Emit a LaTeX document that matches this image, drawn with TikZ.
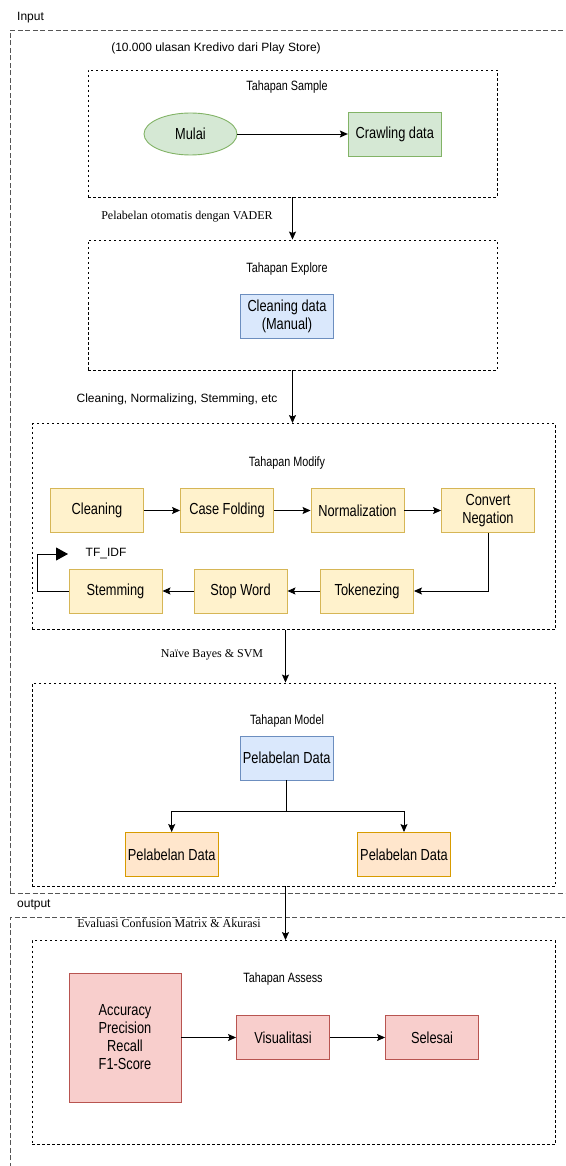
\documentclass[tikz,border=0pt]{standalone}
\usepackage{fontspec}
\setmainfont{Liberation Sans}
\newfontfamily\serifface{Liberation Serif}
\newfontfamily\condface[FakeStretch=0.8]{Liberation Sans}
\usetikzlibrary{arrows.meta,shapes.geometric}
\definecolor{grnF}{HTML}{D5E8D4}\definecolor{grnD}{HTML}{82B366}
\definecolor{bluF}{HTML}{DAE8FC}\definecolor{bluD}{HTML}{6C8EBF}
\definecolor{yelF}{HTML}{FFF2CC}\definecolor{yelD}{HTML}{D6B656}
\definecolor{orgF}{HTML}{FFE6CC}\definecolor{orgD}{HTML}{D79B00}
\definecolor{redF}{HTML}{F8CECC}\definecolor{redD}{HTML}{B85450}
\definecolor{outerD}{HTML}{555555}
\begin{document}
\begin{tikzpicture}[x=1pt,y=-1pt,
  proc/.style={draw, rectangle, line width=0.9pt, minimum width=93pt, minimum height=44pt, inner sep=1pt, align=center, font=\condface\fontsize{16}{18}\selectfont},
  yel/.style={proc, fill=yelF, draw=yelD},
  blu/.style={proc, fill=bluF, draw=bluD},
  org/.style={proc, fill=orgF, draw=orgD},
  red/.style={proc, fill=redF, draw=redD},
  stagebox/.style={draw, rectangle, dash pattern=on 2.5pt off 2.5pt, line width=0.9pt, inner sep=0pt},
  outerbox/.style={draw=outerD, dash pattern=on 5pt off 2.5pt, line width=1pt},
  ttl/.style={font=\condface\fontsize{13.5}{15}\selectfont, inner sep=0pt},
  lbl/.style={font=\fontsize{12}{14}\selectfont, inner sep=0pt},
  slbl/.style={font=\serifface\fontsize{12}{14}\selectfont, inner sep=0pt},
  arr/.style={-{Stealth[length=8pt,width=7pt,inset=1.5pt]}, line width=0.9pt}
]
\useasboundingbox (0,0) rectangle (565,1166);
\clip (0,0) rectangle (565,1166);

% outer boxes
\draw[outerbox] (10,893) -- (10,31) -- (575,31);
\draw[outerbox] (10,893) -- (575,893);
\draw[outerbox] (10,1175) -- (10,917) -- (575,917);
\node[lbl, anchor=west] (inlbl) at (17,18) {Input};
\node[lbl, anchor=west] (outlbl) at (17,905) {output};
\node[lbl] (src) at (216,48) {(10.000 ulasan Kredivo dari Play Store)};

% stage boxes
\node[stagebox, minimum width=409pt, minimum height=127pt] (sample) at (292.5,133.5) {};
\node[stagebox, minimum width=409pt, minimum height=130pt] (explore) at (292.5,305) {};
\node[stagebox, minimum width=523pt, minimum height=206pt] (modify) at (293.5,526.5) {};
\node[stagebox, minimum width=523pt, minimum height=203pt] (model) at (293.5,784.5) {};
\node[stagebox, minimum width=523pt, minimum height=204pt] (assess) at (293.5,1042.5) {};

% titles
\node[ttl] (tsample) at (287,87) {Tahapan Sample};
\node[ttl] (texplore) at (287,269) {Tahapan Explore};
\node[ttl] (tmodify) at (287,463) {Tahapan Modify};
\node[ttl] (tmodel) at (287,721) {Tahapan Model};
\node[ttl] (tassess) at (283,979) {Tahapan Assess};

% sample
\node[ellipse, draw=grnD, fill=grnF, line width=0.9pt, minimum width=93pt, minimum height=42pt, inner sep=0pt, font=\condface\fontsize{16}{18}\selectfont] (mulai) at (190.5,134) {Mulai};
\node[proc, fill=grnF, draw=grnD] (crawl) at (394.8,134) {Crawling data};
\draw[arr] (mulai) -- (crawl);

% explore
\node[blu] (clean) at (287,316.5) {Cleaning data\\(Manual)};

% modify
\node[yel] (m1) at (97,510.5) {Cleaning};
\node[yel] (m2) at (227,510.5) {Case Folding};
\node[yel] (m3) at (357.5,510.5) {Normalization};
\node[yel] (m4) at (488,510.5) {Convert\\Negation};
\node[yel] (m5) at (367,591) {Tokenezing};
\node[yel] (m6) at (240.5,591) {Stop Word};
\node[yel] (m7) at (115.5,591) {Stemming};
\draw[arr] (m1) -- (m2);
\draw[arr] (m2) -- (m3);
\draw[arr] (m3) -- (m4);
\draw[arr] (m4.south) |- (m5.east);
\draw[arr] (m5) -- (m6);
\draw[arr] (m6) -- (m7);
\coordinate (tfend) at (68,554);
\node[lbl] (tfidf) at (106,554) {TF\_IDF};
\draw[-{Triangle[length=12pt,width=13pt]}, line width=0.9pt] (m7.west) -- (37.5,591) -- (37.5,554) -- (tfend);

% model
\node[blu] (pd) at (286.7,758) {Pelabelan Data};
\node[org] (pl) at (171.7,854.5) {Pelabelan Data};
\node[org] (pr) at (404,854.5) {Pelabelan Data};
\coordinate (split) at (286.7,811);
\draw[line width=0.9pt] (pd.south) -- (split);
\draw[arr] (split) -| (pl.north);
\draw[arr] (split) -| (pr.north);

% assess
\node[red, minimum width=112pt, minimum height=129pt] (acc) at (125,1037.5) {Accuracy\\Precision\\Recall\\F1-Score};
\node[red] (vis) at (283,1037.5) {Visualitasi};
\node[red] (sel) at (432,1037.5) {Selesai};
\draw[arr] (acc) -- (vis);
\draw[arr] (vis) -- (sel);

% stage connectors
\draw[arr] (sample.south) -- (explore.north);
\draw[arr] (explore.south) -- (explore.south |- modify.north);
\draw[arr] ([xshift=-8pt]modify.south) -- ([xshift=-8pt]model.north);
\draw[arr] ([xshift=-8pt]model.south) -- ([xshift=-8pt]assess.north);
\node[slbl] (l1) at (187,217) {Pelabelan otomatis dengan VADER};
\node[lbl] (l2) at (177,399) {Cleaning, Normalizing, Stemming, etc};
\node[slbl] (l3) at (212,655) {Naïve Bayes \& SVM};
\node[slbl] (l4) at (169,923) {Evaluasi Confusion Matrix \& Akurasi};
\end{tikzpicture}
\end{document}
